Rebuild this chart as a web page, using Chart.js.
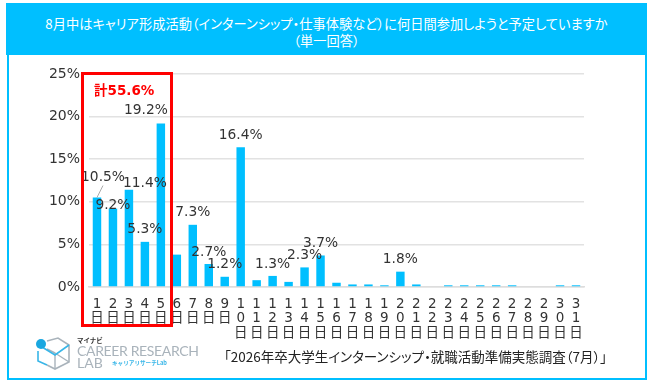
<!DOCTYPE html>
<html lang="ja">
<head>
<meta charset="utf-8">
<script src="https://cdn.jsdelivr.net/npm/chart.js@4"></script>
<style>
  html, body { margin: 0; padding: 0; background: #fff; }
  #wrap { position: relative; width: 650px; height: 384px; overflow: hidden; font-family: "DejaVu Sans", "Noto Sans CJK JP", sans-serif; }
  #wrap div, #wrap svg { position: absolute; white-space: nowrap; }
  #frame { left: 7px; top: 3px; width: 636px; height: 373px; border: 2px solid #00bfff; }
  #header { left: 6px; top: 3px; width: 641px; height: 52px; background: #00bfff; color: #fff; text-align: center; font: 13.25px/17px "Noto Sans CJK JP", sans-serif; font-feature-settings: "palt"; }
  #header span { display: block; }
  #redbox { left: 81px; top: 72px; width: 86px; height: 249px; border: 3px solid #ff0000; }
  #total { left: 94px; top: 81px; color: #ff0000; font-weight: bold; font-size: 13.5px; line-height: 18px; }
  #source { left: 224px; top: 346px; color: #222; font: 13.5px/20px "Noto Sans CJK JP", sans-serif; font-feature-settings: "palt"; }
  canvas { position: absolute; left: 0; top: 0; }
</style>
</head>
<body>
<div id="wrap">
  <canvas id="grafico" width="650" height="384"></canvas>
  <div id="frame"></div>
  <div id="header"><span style="margin-top:12px">8月中はキャリア形成活動（インターンシップ・仕事体験など）に何日間参加しようと予定していますか</span><span>（単一回答）</span></div>
  <div id="redbox"></div>
  <div id="total">計55.6%</div>
  <div id="source">「2026年卒大学生インターンシップ・就職活動準備実態調査（7月）」</div>

  <svg style="left:34px;top:335px" width="40" height="36" viewBox="0 0 40 36" fill="none">
    <path d="M13 6 L24 3 L35 10 V27 L21 34 L13 30" stroke="#a9b3bb" stroke-width="1.6"/>
    <path d="M21 18 L35 27 M21 18 V34 M13 14 L21 18" stroke="#a9b3bb" stroke-width="1.4"/>
    <path d="M8 12 L21 20 L35 10 M4 16 V26 L13 30" stroke="#38b6e8" stroke-width="1.6"/>
    <circle cx="7" cy="9" r="5" fill="#1aa7e0"/>
  </svg>
  <div style="left:77px;top:335px;font:bold 6.5px/10px 'Noto Sans CJK JP';color:#333">マイナビ</div>
  <div style="left:77px;top:342px;font:14px/18px Lato;letter-spacing:-0.35px;color:#a9b3bb">CAREER RESEARCH</div>
  <div style="left:77px;top:354px;font:14px/18px Lato;color:#a9b3bb">LAB</div>
  <div style="left:112px;top:358px;font:bold 5.6px/10px 'Noto Sans CJK JP';color:#38b6e8">キャリアリサーチLab</div>
</div>

<script>
const days = [
    ['1','日'], ['2','日'], ['3','日'], ['4','日'], ['5','日'], ['6','日'], ['7','日'], ['8','日'], ['9','日'],
    ['1','0','日'], ['1','1','日'], ['1','2','日'], ['1','3','日'], ['1','4','日'], ['1','5','日'], ['1','6','日'],
    ['1','7','日'], ['1','8','日'], ['1','9','日'], ['2','0','日'], ['2','1','日'], ['2','2','日'], ['2','3','日'],
    ['2','4','日'], ['2','5','日'], ['2','6','日'], ['2','7','日'], ['2','8','日'], ['2','9','日'], ['3','0','日'], ['3','1','日']
];
const percents = [10.5, 9.2, 11.4, 5.3, 19.2, 3.8, 7.3, 2.7, 1.2, 16.4, 0.8, 1.3, 0.6, 2.3, 3.7, 0.5,
    0.3, 0.3, 0.2, 1.8, 0.3, 0, 0.2, 0.2, 0.2, 0.2, 0.2, 0, 0, 0.2, 0.2];
const yTicks = [0, 5, 10, 15, 20, 25];
const labeledDays = [1, 2, 3, 4, 5, 7, 8, 9, 10, 12, 14, 15, 20];

// ラベルの手動ずらし (日: [dx, dy])
const labelNudge = { 1: [6, -20], 2: [0, -3], 3: [16, -6], 5: [-15, -13] };

const barLabels = {
    id: 'barLabels',
    afterDatasetsDraw(chart) {
        const { ctx } = chart;
        const bars = chart.getDatasetMeta(0).data;
        ctx.save();
        ctx.font = '13.8px "DejaVu Sans"';
        ctx.fillStyle = '#333';
        ctx.textAlign = 'center';
        ctx.textBaseline = 'middle';
        labeledDays.forEach(day => {
            const bar = bars[day - 1];
            const [dx, dy] = labelNudge[day] || [0, -12];
            ctx.fillText(percents[day - 1].toFixed(1) + '%', bar.x + dx, bar.y + dy);
        });
        // 1日のラベルの引き出し線
        const first = bars[0];
        ctx.strokeStyle = '#aaa';
        ctx.beginPath();
        ctx.moveTo(first.x, first.y);
        ctx.lineTo(first.x + 6, first.y - 12);
        ctx.stroke();
        ctx.restore();
    }
};

new Chart(document.getElementById('grafico'), {
    type: 'bar',
    data: {
        labels: days,
        datasets: [{
            data: percents,
            backgroundColor: '#00bfff',
            barPercentage: 0.53,
            categoryPercentage: 1
        }]
    },
    options: {
        responsive: false,
        animation: false,
        layout: { padding: { top: 74, right: 66, left: 0, bottom: 0 } },
        plugins: { legend: { display: false }, tooltip: { enabled: false } },
        scales: {
            x: {
                grid: { display: false },
                border: { color: '#ddd', width: 1.5 },
                afterFit(scale) { scale.height = 97; },
                ticks: {
                    autoSkip: false,
                    maxRotation: 0,
                    minRotation: 0,
                    padding: 2,
                    color: '#333',
                    font: { family: '"DejaVu Sans", "Noto Sans CJK JP"', size: 13.5, lineHeight: 1.07 }
                }
            },
            y: {
                min: 0,
                max: 25,
                afterFit(scale) { scale.width = 89; },
                afterBuildTicks(scale) { scale.ticks = yTicks.map(v => ({ value: v })); },
                grid: { color: '#e2e2e2', lineWidth: 1.5, drawTicks: false },
                border: { display: false },
                ticks: {
                    padding: 9,
                    color: '#333',
                    font: { family: '"DejaVu Sans"', size: 14 },
                    callback: v => v + '%'
                }
            }
        }
    },
    plugins: [barLabels]
});
</script>
</body>
</html>
